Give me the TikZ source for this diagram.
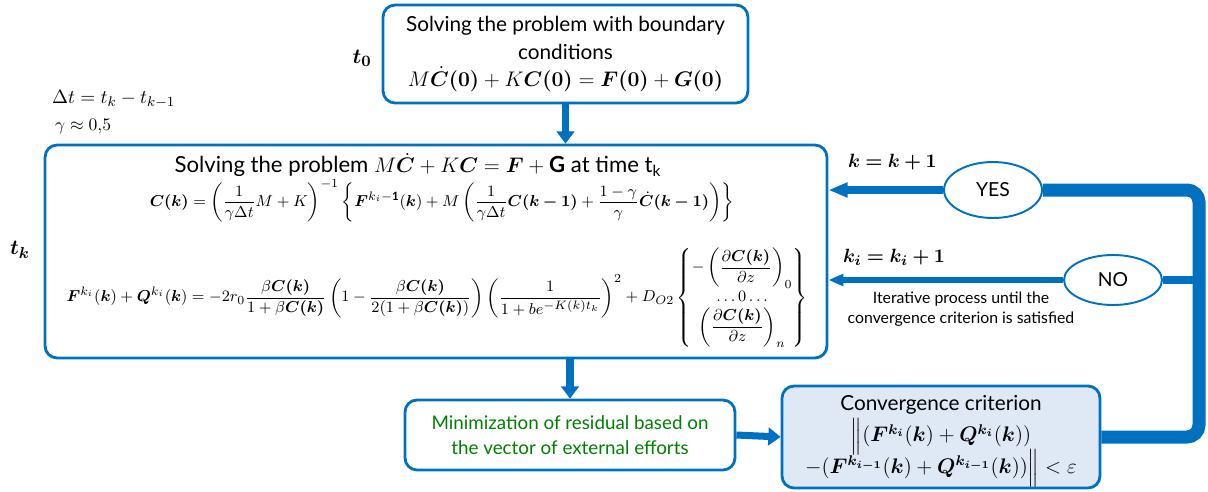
\documentclass[tikz,border=0pt]{standalone}
\usepackage{amsmath}
\usepackage{amssymb}
\usepackage{bm}
\usepackage{fontspec}
\setmainfont{Lato}
\usepackage{tikz}
\usetikzlibrary{shapes.geometric, arrows.meta, positioning, calc}
\definecolor{Azul}{RGB}{0, 112, 192}
\definecolor{Verde}{RGB}{0, 128, 0}
\definecolor{Celeste}{RGB}{222, 233, 245}

\begin{document}
\begin{tikzpicture}[x=0.02cm, y=-0.02cm,
        caja/.style={rectangle, rounded corners=0.24cm, draw=Azul, fill=white, line width=1.6pt, align=center, inner sep=0pt},
        decision/.style={ellipse, draw=Azul, fill=white, line width=1.1pt, inner sep=0pt, minimum width=1.96cm, minimum height=1.08cm, font=\fontsize{11}{13}\selectfont},
        etiqueta/.style={inner sep=1pt, font=\fontsize{11}{13}\selectfont},
        flecha/.style={draw=Azul, line width=4pt, -{Triangle[width=10pt, length=7pt]}},
        lazo/.style={draw=Azul, line width=7.4pt, rounded corners=0.24cm},
        yesflecha/.style={draw=Azul, line width=4.5pt, -{Triangle[width=8pt, length=11pt]}},
        noflecha/.style={draw=Azul, line width=3pt, -{Triangle[width=6.5pt, length=8.5pt]}}
    ]
        \useasboundingbox (0,0) rectangle (1208,491);

        % Bloques principales
        \node[caja, minimum width=7.3cm, minimum height=1.96cm, font=\fontsize{11.8}{15.5}\selectfont] (inicio) at (565.5,54) {Solving the problem with boundary\\conditions\\$M\dot{\bm C}\bm{(0)}+K\bm{C(0)}=\bm{F(0)}+\bm{G(0)}$};
        \node[caja, minimum width=15.64cm, minimum height=4.26cm] (paso) at (436,251.5) {};
        \node[caja, minimum width=6.6cm, minimum height=1.4cm, text=Verde, font=\fontsize{10.7}{14}\selectfont] (residuo) at (570,435) {Minimization of residual based on\\the vector of external efforts};
        \node[caja, fill=Celeste, minimum width=6.36cm, minimum height=2.04cm, font=\fontsize{11.8}{18}\selectfont] (conv) at (941,437) {Convergence criterion\\$\smash{\Big\|}(\bm F^{\bm{k_i}}(\bm k)+\bm Q^{\bm{k_i}}(\bm k))$\\$-(\bm F^{\bm{k_{i-1}}}(\bm k)+\bm Q^{\bm{k_{i-1}}}(\bm k))\smash{\Big\|}<\varepsilon$};

        % Contenido del paso temporal
        \node[font=\fontsize{12.6}{15}\selectfont, inner sep=0pt] (titulo) at (418,165) {Solving the problem $M\dot{\bm C}+K\bm C=\bm F+\mathbf G$ at time t\textsubscript{k}};
        \node[font=\fontsize{9.3}{11}\selectfont, inner sep=0pt] (ecuno) at (442,201) {$\bm{C(k)}=\left(\dfrac{1}{\gamma\Delta t}M+K\right)^{-1}\left\{\bm F^{k_i-\mathbf 1}(\bm k)+M\left(\dfrac{1}{\gamma\Delta t}\bm{C(k-1)}+\dfrac{1-\gamma}{\gamma}\dot{\bm C}\bm{(k-1)}\right)\right\}$};
        \node[font=\fontsize{9.3}{11}\selectfont, inner sep=0pt] (ecdos) at (437,298) {$\bm F^{k_i}(\bm k)+\bm Q^{k_i}(\bm k)=-2r_0\dfrac{\beta\bm{C(k)}}{1+\beta\bm{C(k)}}\left(1-\dfrac{\beta\bm{C(k)}}{2(1+\beta\bm{C(k)})}\right)\left(\dfrac{1}{1+be^{-K(k)t_k}}\right)^2+D_{O2}\left\{\begin{matrix}-\left(\dfrac{\partial\bm{C(k)}}{\partial z}\right)_0\\ \ldots0\ldots\\ \left(\dfrac{\partial\bm{C(k)}}{\partial z}\right)_n\end{matrix}\right\}$};

        % Decisiones
        \node[decision, minimum height=1.12cm] (si) at (993,190) {YES};
        \node[decision, minimum height=1.0cm] (no) at (1113,280) {NO};
        \coordinate (giro) at (1199,190);

        % Etiquetas sueltas
        \node[etiqueta, font=\fontsize{13}{15}\selectfont] (tcero) at (362,58) {$\bm{t_0}$};
        \node[etiqueta, font=\fontsize{13}{15}\selectfont] (tka) at (20,250) {$\bm{t_k}$};
        \node[etiqueta, anchor=west] (delta) at (50,99) {$\Delta t=t_k-t_{k-1}$};
        \node[etiqueta, anchor=west, font=\fontsize{10}{12}\selectfont] (gama) at (53,127) {$\gamma\approx0{,}5$};
        \node[etiqueta, anchor=west] (kmas) at (846,162) {$\bm{k=k+1}$};
        \node[etiqueta, anchor=west] (kimas) at (841,257) {$\bm{k_i=k_i+1}$};
        \node[etiqueta, align=center, font=\fontsize{9}{11.5}\selectfont] (iter) at (961,309) {Iterative process until the\\convergence criterion is satisfied};

        % Flujo principal
        \draw[flecha] (inicio.south) -- (inicio.south |- paso.north);
        \draw[flecha] (residuo.north |- paso.south) -- (residuo.north);
        \draw[flecha] (residuo.east) -- (conv.west);

        % Lazo de convergencia
        \draw[lazo] (conv.east) -| (giro) -- (si.east);
        \draw[draw=Azul, line width=5pt] (no.east) -- (no.east -| giro);
        \draw[yesflecha] (si.west) -- (si.west -| paso.east);
        \draw[noflecha] (no.west) -- (no.west -| paso.east);
    \end{tikzpicture}
\end{document}
